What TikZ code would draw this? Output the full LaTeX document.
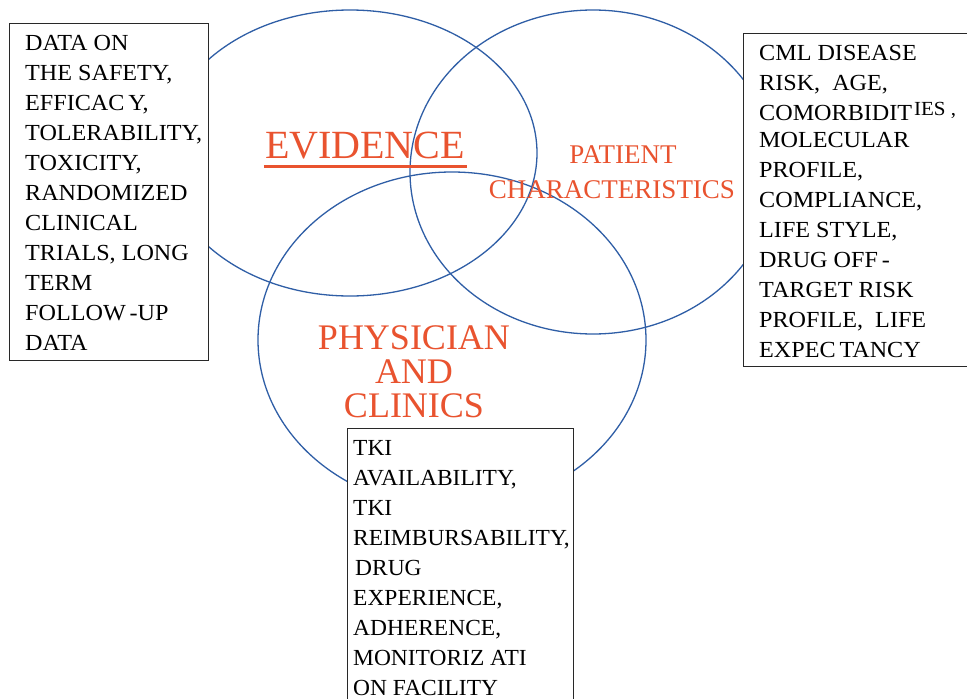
\documentclass[tikz,border=0pt]{standalone}
\usepackage{fontspec}
\setmainfont{Liberation Serif}
\newfontfamily\boxfont{Liberation Serif}[FakeStretch=1.05]
\newfontfamily\boxfontb{Liberation Serif}[FakeStretch=1.02]
\usetikzlibrary{shapes.geometric,calc}
\definecolor{vennblue}{RGB}{47,94,166}
\definecolor{labelred}{RGB}{233,83,47}
\definecolor{boxline}{RGB}{40,40,40}
\tikzset{
  venn/.style={draw=vennblue, line width=1.3pt, ellipse, inner sep=0pt},
  infobox/.style={draw=boxline, line width=1.4pt, fill=white, rectangle, inner sep=0pt, anchor=north west},
  infotext/.style={anchor=north west, align=left, inner sep=0pt, font=\boxfont\fontsize{23}{30}\selectfont},
  redlabel/.style={text=labelred, align=center, inner sep=0pt}
}
\begin{document}
\begin{tikzpicture}[x=1pt,y=-1pt]
\useasboundingbox (0,0) rectangle (967,699);
\fill[white] (0,0) rectangle (967,699);
% Venn ellipses
\node[venn, minimum width=374, minimum height=286] (ev) at (350,153) {};
\node[venn, minimum width=366, minimum height=324] (pc) at (593,172) {};
\node[venn, minimum width=388, minimum height=336] (ph) at (452,340) {};
% red labels
\node[redlabel, anchor=base, font=\fontsize{40}{40}\selectfont] (evl) at (365,158) {EVIDENCE};
\draw[labelred, line width=3pt] ($(evl.base west)+(-1,8)$) coordinate (ula) -- ($(evl.base east)+(2,8)$) coordinate (ulb);
\node[redlabel, anchor=north, font=\fontsize{27}{35}\selectfont] (pcl) at (612,145) {\hspace*{22pt}PATIENT\\CHARACTERISTICS};
\node[redlabel, anchor=north, font=\fontsize{36}{34}\selectfont] (phl) at (414,325) {PHYSICIAN\\AND\\CLINICS};
% boxes
\node[infobox, minimum width=199, minimum height=337] (b1) at (9,23) {};
\node[infobox, minimum width=240, minimum height=333] (b2) at (743,33) {};
\node[infobox, minimum width=226, minimum height=290] (b3) at (347,428) {};
\node[infotext] (t1) at (25,35) {DATA ON\\THE SAFETY,\\EFFICAC\,Y,\\TOLERABILITY,\\TOXICITY,\\RANDOMIZED\\CLINICAL\\TRIALS, LONG\\TERM\\FOLLOW\,-UP\\DATA};
\node[infotext] (t2) at (759,45) {CML DISEASE\\RISK,\ \ AGE,\\COMORBIDIT\raisebox{5pt}{\fontsize{20}{20}\selectfont\kern2pt IES ,}\\[-3pt]MOLECULAR\\PROFILE,\\COMPLIANCE,\\LIFE STYLE,\\DRUG OFF\,-\\TARGET RISK\\PROFILE,\ \ LIFE\\EXPEC\,TANCY};
\node[infotext, font=\boxfontb\fontsize{23}{30}\selectfont] (t3) at (353,440) {TKI\\AVAILABILITY,\\TKI\\REIMBURSABILITY,\\\hspace*{2pt}DRUG\\EXPERIENCE,\\ADHERENCE,\\MONITORIZ ATI\\ON FACILITY};
\end{tikzpicture}
\end{document}
